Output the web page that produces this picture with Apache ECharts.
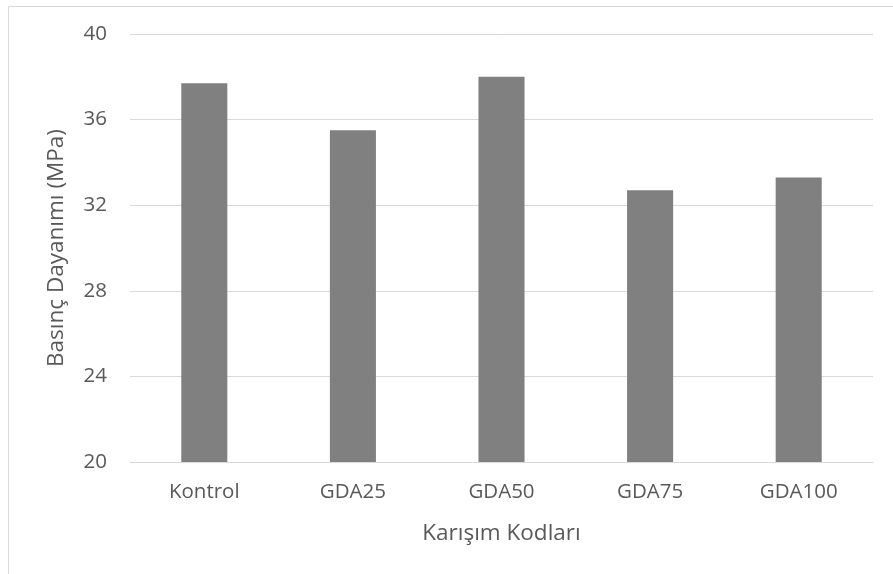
<!DOCTYPE html>
<html>
<head>
<meta charset="utf-8">
<script src="https://cdn.jsdelivr.net/npm/echarts@6/dist/echarts.min.js"></script>
<style>
  html, body { margin: 0; padding: 0; background: #fff; }
  #chart { width: 893px; height: 574px; }
</style>
</head>
<body>
<div id="chart"></div>
<script>
// Compressive strength per mix code
const categories = ['Kontrol', 'GDA25', 'GDA50', 'GDA75', 'GDA100'];
const strengthValues = [37.7, 35.5, 38.0, 32.7, 33.3];
const yTicks = { min: 20, max: 40, interval: 4 };

const FONT = '"Open Sans", "Noto Sans", sans-serif';
const TEXT = '#595959';

const chart = echarts.init(document.getElementById('chart'), null, { renderer: 'canvas' });
chart.setOption({
  backgroundColor: '#ffffff',
  animation: false,
  graphic: [{
    type: 'rect',
    shape: { x: 8.5, y: 6.5, width: 1000, height: 700 },
    style: { fill: 'none', stroke: '#d9d9d9', lineWidth: 1 },
    silent: true
  }],
  grid: { left: 130, right: 20, top: 34, bottom: 112, containLabel: false },
  xAxis: {
    type: 'category',
    data: categories,
    name: 'Karışım Kodları',
    nameLocation: 'middle',
    nameGap: 60,
    nameTextStyle: { color: TEXT, fontSize: 22.5, fontFamily: FONT },
    axisLine: { lineStyle: { color: '#d9d9d9', width: 1 } },
    axisTick: { show: false },
    axisLabel: { color: TEXT, fontSize: 20.5, fontFamily: FONT, margin: 20 }
  },
  yAxis: {
    type: 'value',
    min: yTicks.min,
    max: yTicks.max,
    interval: yTicks.interval,
    name: 'Basınç Dayanımı (MPa)',
    nameLocation: 'middle',
    nameGap: 62,
    nameTextStyle: { color: TEXT, fontSize: 22.5, fontFamily: FONT },
    axisLine: { show: false },
    axisTick: { show: false },
    axisLabel: { color: TEXT, fontSize: 20.5, fontFamily: FONT, margin: 23 },
    splitLine: { lineStyle: { color: '#d9d9d9', width: 1 } }
  },
  series: [{
    type: 'bar',
    data: strengthValues,
    barWidth: '31%',
    itemStyle: { color: '#808080' }
  }]
});
</script>
</body>
</html>
